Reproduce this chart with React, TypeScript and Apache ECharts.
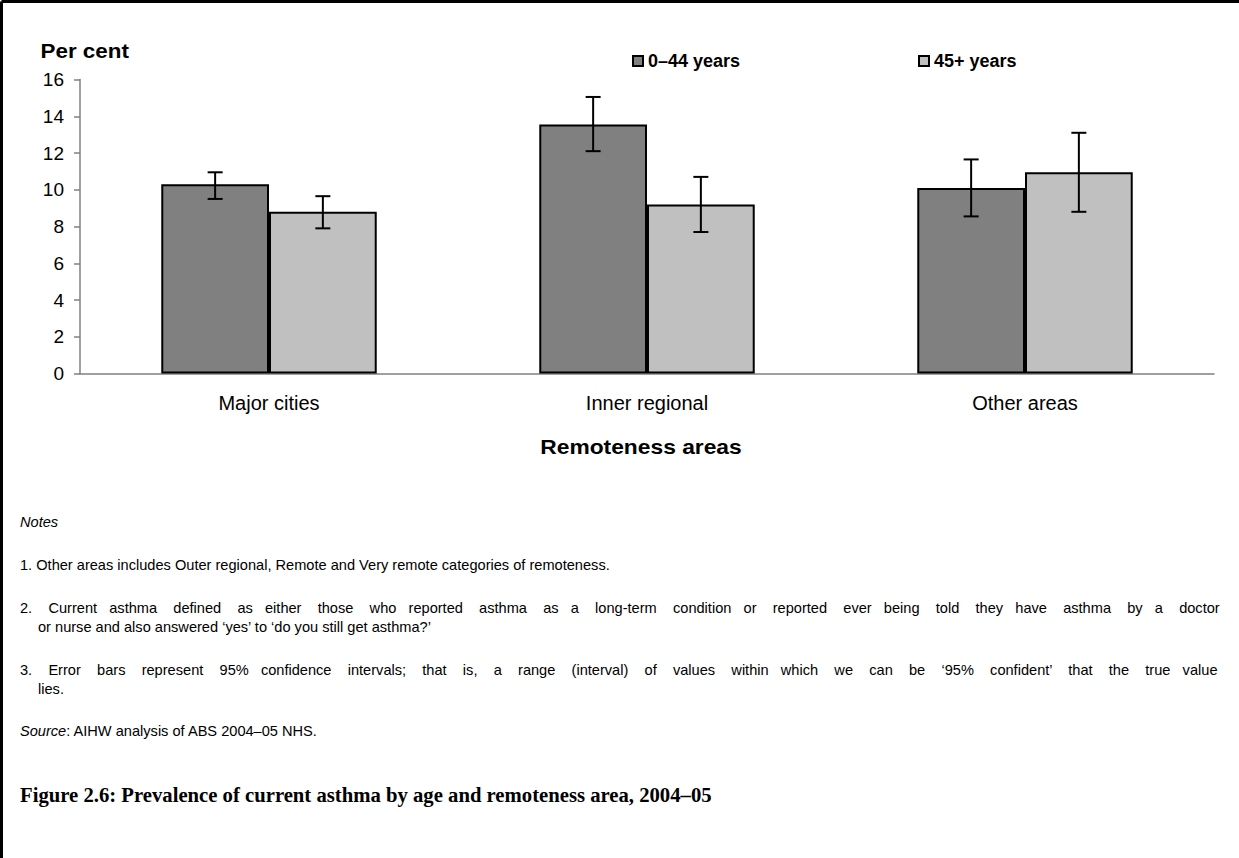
import React, { useEffect, useRef } from "react";
import * as echarts from "echarts";

const categories = ["Major cities", "Inner regional", "Other areas"];
const seriesNames = ["0–44 years", "45+ years"];
const youngValues = [10.3, 13.55, 10.1];
const youngLow = [9.5, 12.1, 8.55];
const youngHigh = [10.95, 15.05, 11.65];
const oldValues = [8.8, 9.2, 10.95];
const oldLow = [7.9, 7.7, 8.8];
const oldHigh = [9.65, 10.7, 13.1];
const yTicks = [0, 2, 4, 6, 8, 10, 12, 14, 16];

const noteLines = [
  "1. Other areas includes Outer regional, Remote and Very remote categories of remoteness.",
  "2. Current asthma defined as either those who reported asthma as a long-term condition or reported ever being told they have asthma by a doctor",
  "or nurse and also answered ‘yes’ to ‘do you still get asthma?’",
  "3. Error bars represent 95% confidence intervals; that is, a range (interval) of values within which we can be ‘95% confident’ that the true value",
  "lies.",
];
const justifiedLines = [false, true, false, true, false];
const figureTitle = "Figure 2.6: Prevalence of current asthma by age and remoteness area, 2004–05";

const CAT_GAP = 0.43;
const SANS = "'Liberation Sans', Arial, sans-serif";
const NOTE_FONT = `14.6px ${SANS}`;

function errorSeries(low: number[], high: number[], side: number) {
  return {
    type: "custom",
    z: 10,
    encode: { x: 0, y: [1, 2] },
    data: low.map((l, i) => [i, l, high[i]]),
    renderItem: (params: any, api: any) => {
      const idx = api.value(0);
      const lo = api.coord([idx, api.value(1)]);
      const hi = api.coord([idx, api.value(2)]);
      const catW = api.size([1, 0])[0];
      const barW = (catW * (1 - CAT_GAP)) / 2;
      const x = lo[0] + (side * barW) / 2;
      const cap = 7.5;
      const style = { stroke: "#000", lineWidth: 2 };
      return {
        type: "group",
        children: [
          { type: "line", shape: { x1: x, y1: hi[1], x2: x, y2: lo[1] }, style },
          { type: "line", shape: { x1: x - cap, y1: hi[1], x2: x + cap, y2: hi[1] }, style },
          { type: "line", shape: { x1: x - cap, y1: lo[1], x2: x + cap, y2: lo[1] }, style },
        ],
      };
    },
  };
}

function justify(text: string, target: number): string {
  const canvas = document.createElement("canvas");
  const ctx = canvas.getContext("2d");
  if (!ctx) return text;
  ctx.font = NOTE_FONT;
  const words = text.split(" ");
  const natural = ctx.measureText(text).width;
  const sp = ctx.measureText("\u00A0").width || 4;
  const gaps = words.length - 1;
  const extra = target - natural;
  if (gaps <= 0 || extra <= 0) return text;
  let out = words[0];
  let acc = 0;
  let used = 0;
  for (let i = 1; i < words.length; i++) {
    acc += extra / gaps;
    const n = Math.max(0, Math.round(acc / sp) - used);
    used += n;
    out += " " + "\u00A0".repeat(n) + words[i];
  }
  return out;
}

export default function App() {
  const ref = useRef<HTMLDivElement>(null);
  useEffect(() => {
    if (!ref.current) return;
    const chart = echarts.init(ref.current, null, { renderer: "svg" });
    const lines = noteLines.map((t, i) => (justifiedLines[i] ? justify(t, 1200) : t));
    const noteText = (text: string, x: number, y: number) => ({
      type: "text",
      x,
      y,
      style: { text, font: NOTE_FONT, fill: "#000", verticalAlign: "middle" },
    });
    const legendText = { fontFamily: SANS, fontWeight: "bold", fontSize: 18, color: "#000" };
    chart.setOption({
      animation: false,
      backgroundColor: "#fff",
      grid: { left: 80, right: 25, top: 79.5, bottom: 484.5 },
      legend: [
        {
          data: [seriesNames[0]],
          left: 632,
          top: 52,
          padding: 0,
          icon: "rect",
          itemWidth: 10,
          itemHeight: 10,
          textStyle: legendText,
        },
        {
          data: [seriesNames[1]],
          left: 918,
          top: 52,
          padding: 0,
          icon: "rect",
          itemWidth: 10,
          itemHeight: 10,
          textStyle: legendText,
        },
      ],
      xAxis: {
        type: "category",
        data: categories,
        axisLine: { lineStyle: { color: "#808080", width: 1.5 } },
        axisTick: { show: false },
        axisLabel: { fontFamily: SANS, fontSize: 20, color: "#000", margin: 19 },
      },
      yAxis: {
        type: "value",
        min: yTicks[0],
        max: yTicks[yTicks.length - 1],
        interval: 2,
        splitLine: { show: false },
        axisLine: { show: true, lineStyle: { color: "#808080", width: 1.5 } },
        axisTick: { show: true, length: 6, lineStyle: { color: "#808080", width: 1.5 } },
        axisLabel: { fontFamily: SANS, fontSize: 19, color: "#000", margin: 16 },
      },
      series: [
        {
          name: seriesNames[0],
          type: "bar",
          data: youngValues,
          barGap: "0%",
          barCategoryGap: `${CAT_GAP * 100}%`,
          itemStyle: { color: "#808080", borderColor: "#000", borderWidth: 2 },
        },
        {
          name: seriesNames[1],
          type: "bar",
          data: oldValues,
          barGap: "0%",
          barCategoryGap: `${CAT_GAP * 100}%`,
          itemStyle: { color: "#C0C0C0", borderColor: "#000", borderWidth: 2 },
        },
        errorSeries(youngLow, youngHigh, -1),
        errorSeries(oldLow, oldHigh, 1),
      ],
      graphic: [
        { type: "line", shape: { x1: 1.5, y1: 1.5, x2: 1239, y2: 1.5 }, style: { stroke: "#000", lineWidth: 3 } },
        { type: "line", shape: { x1: 1.5, y1: 1.5, x2: 1.5, y2: 858 }, style: { stroke: "#000", lineWidth: 3 } },
        {
          type: "text",
          x: 40.5,
          y: 51,
          scaleX: 1.12,
          style: { text: "Per cent", font: `bold 20px ${SANS}`, fill: "#000", verticalAlign: "middle" },
        },
        {
          type: "text",
          x: 641,
          y: 447,
          scaleX: 1.14,
          style: {
            text: "Remoteness areas",
            font: `bold 20px ${SANS}`,
            fill: "#000",
            align: "center",
            verticalAlign: "middle",
          },
        },
        {
          type: "text",
          x: 20,
          y: 522,
          style: { text: "Notes", font: `italic 14.6px ${SANS}`, fill: "#000", verticalAlign: "middle" },
        },
        noteText(lines[0], 20, 565),
        noteText(lines[1], 20, 608),
        noteText(lines[2], 38, 627),
        noteText(lines[3], 20, 670),
        noteText(lines[4], 38, 689),
        {
          type: "text",
          x: 20,
          y: 731,
          style: {
            text: "{i|Source}: AIHW analysis of ABS 2004–05 NHS.",
            font: NOTE_FONT,
            fill: "#000",
            verticalAlign: "middle",
            rich: { i: { font: `italic 14.6px ${SANS}`, fill: "#000" } },
          },
        },
        {
          type: "text",
          x: 20,
          y: 795,
          style: {
            text: figureTitle,
            font: `bold 20.7px 'Liberation Serif', 'DejaVu Serif', serif`,
            fill: "#000",
            verticalAlign: "middle",
          },
        },
      ],
    });
    return () => chart.dispose();
  }, []);
  return (
    <div
      ref={ref}
      style={{ position: "fixed", left: 0, top: 0, width: 1239, height: 858, background: "#fff" }}
    />
  );
}
